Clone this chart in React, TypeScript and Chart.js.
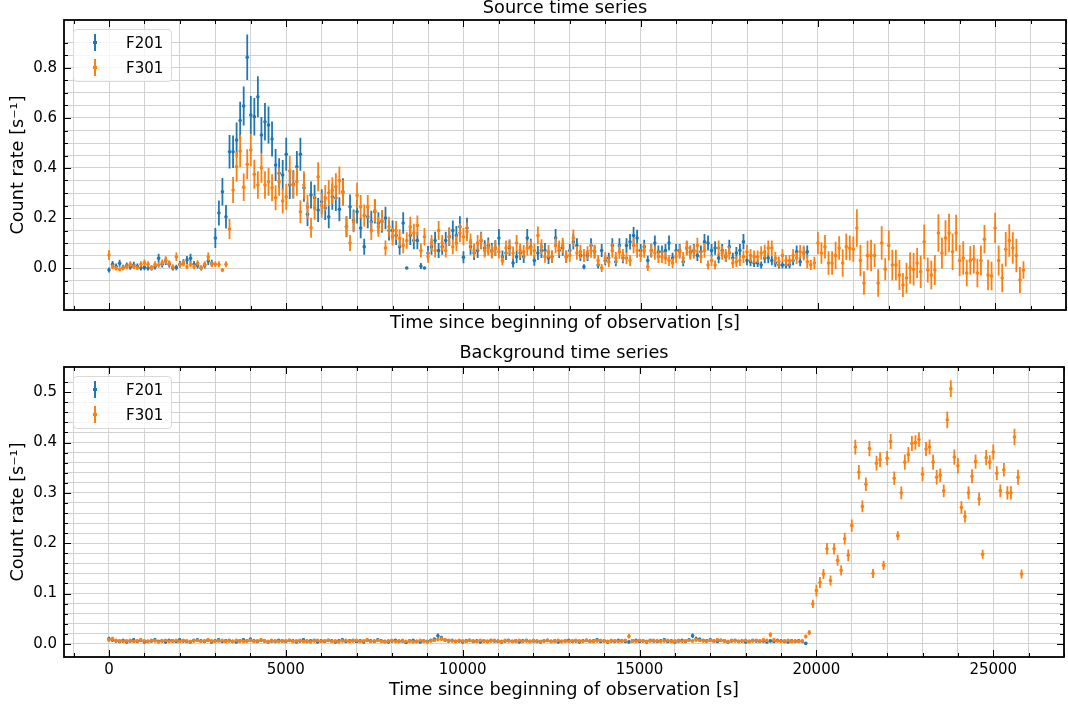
import React, { useEffect, useRef } from "react";
import { Chart, registerables } from "chart.js";

Chart.register(...registerables);

const FONT = '"DejaVu Sans", "Liberation Sans", sans-serif';
Chart.defaults.font.family = FONT;
Chart.defaults.color = "#000";

// ---------------- data (time bins of 100 s starting at 0 s) ----------------
const BIN_SECONDS = 100;
const SERIES_NAMES = ["F201", "F301"];
const COLORS = ["#1f77b4", "#ff7f0e"];
const PANEL_TITLES = ["Source time series", "Background time series"];
const X_LABEL = "Time since beginning of observation [s]";
const Y_LABEL = "Count rate [s\u207B\u00B9]";

// Source, F201: 0 .. 19700 s
const srcF201 = [
  -0.008, 0.015, 0.006, 0.019, 0.002, 0.01, 0.004, 0.012, 0.006, 0.0,
  0.002, 0.0, 0.0, 0.006, 0.039, 0.015, 0.028, 0.015, 0.0, 0.002,
  0.015, 0.021, 0.032, 0.039, 0.015, 0.01, 0.0, 0.01, 0.028, 0.019,
  0.12, 0.22, 0.305, 0.205, 0.465, 0.465, 0.512, 0.59, 0.648, 0.843,
  0.612, 0.605, 0.685, 0.532, 0.585, 0.572, 0.516, 0.412, 0.379, 0.372,
  0.455, 0.332, 0.335, 0.405, 0.455, 0.321, 0.215, 0.292, 0.281, 0.232,
  0.265, 0.24,
  0.205, 0.285, 0.28, 0.235, 0.305, 0.165, 0.245, 0.19, 0.225, 0.16,
  0.085, 0.205, 0.185, 0.225, 0.18, 0.185, 0.2, 0.15, 0.15, 0.13,
  0.085, 0.18, 0.0, 0.13, 0.11, 0.11, 0.008, 0.0, 0.06, 0.085,
  0.11, 0.07, 0.085, 0.11, 0.125, 0.15, 0.13, 0.165, 0.043, 0.16,
  0.085, 0.06, 0.07, 0.11, 0.08, 0.09, 0.07, 0.08, 0.12, 0.045,
  0.06, 0.08, 0.02, 0.045, 0.06, 0.045, 0.12, 0.085, 0.03, 0.06,
  0.07, 0.07, 0.04, 0.045, 0.12, 0.07, 0.08, 0.045,
  0.07, 0.105, 0.09, 0.05, 0.005, 0.05, 0.09, 0.065, 0.012, 0.07,
  0.03, 0.04, 0.09, 0.025, 0.09, 0.04, 0.09, 0.105, 0.13, 0.12,
  0.07, 0.085, 0.03, 0.07, 0.1, 0.065, 0.065, 0.07, 0.1, 0.04,
  0.07, 0.07, 0.025, 0.08, 0.065, 0.07, 0.05, 0.065, 0.105, 0.1,
  0.07, 0.08, 0.04, 0.07, 0.045, 0.085, 0.04, 0.06, 0.07, 0.105,
  0.03, 0.025, 0.02, 0.02, 0.012, 0.04, 0.04, 0.03, 0.02, 0.012,
  0.012, 0.012, 0.012, 0.03, 0.065, 0.025, 0.06, 0.065,
];
const srcF201Err = [
  0.01, 0.013, 0.012, 0.014, 0.011, 0.012, 0.011, 0.013, 0.012, 0.01,
  0.011, 0.01, 0.01, 0.012, 0.018, 0.013, 0.016, 0.013, 0.01, 0.011,
  0.013, 0.014, 0.016, 0.018, 0.013, 0.012, 0.01, 0.012, 0.016, 0.014,
  0.04, 0.05, 0.055, 0.047, 0.067, 0.065, 0.07, 0.075, 0.078, 0.091,
  0.076, 0.075, 0.082, 0.072, 0.075, 0.074, 0.07, 0.064, 0.06, 0.06,
  0.066, 0.056, 0.056, 0.063, 0.066, 0.056, 0.047, 0.054, 0.052, 0.048,
  0.05, 0.048,
  0.046, 0.052, 0.052, 0.048, 0.054, 0.042, 0.049, 0.044, 0.047, 0.041,
  0.032, 0.046, 0.044, 0.047, 0.043, 0.044, 0.045, 0.04, 0.04, 0.038,
  0.032, 0.043, 0, 0.038, 0.035, 0.035, 0.012, 0, 0.028, 0.032,
  0.035, 0.03, 0.032, 0.035, 0.037, 0.04, 0.038, 0.042, 0.024, 0.041,
  0.032, 0.028, 0.03, 0.035, 0.031, 0.032, 0.03, 0.031, 0.036, 0.025,
  0.028, 0.031, 0.018, 0.025, 0.028, 0.025, 0.036, 0.032, 0.021, 0.028,
  0.03, 0.03, 0.024, 0.025, 0.036, 0.03, 0.031, 0.025,
  0.026, 0.031, 0.029, 0.022, 0.01, 0.022, 0.029, 0.025, 0.014, 0.026,
  0.019, 0.021, 0.029, 0.018, 0.029, 0.021, 0.029, 0.031, 0.034, 0.033,
  0.026, 0.028, 0.019, 0.026, 0.03, 0.025, 0.025, 0.026, 0.03, 0.021,
  0.026, 0.026, 0.018, 0.027, 0.025, 0.026, 0.022, 0.025, 0.031, 0.03,
  0.026, 0.027, 0.021, 0.026, 0.021, 0.028, 0.021, 0.024, 0.026, 0.031,
  0.019, 0.018, 0.016, 0.016, 0.014, 0.021, 0.021, 0.019, 0.016, 0.014,
  0.014, 0.014, 0.014, 0.019, 0.025, 0.018, 0.024, 0.025,
];

// Source, F301: 0 .. 25800 s
const srcF301 = [
  0.052, 0.005, -0.001, -0.005, 0.001, 0.005, 0.015, 0.005, 0.001, 0.015,
  0.021, 0.015, 0.001, 0.015, 0.012, 0.021, 0.032, 0.019, 0.005, 0.045,
  0.012, 0.019, 0.005, 0.015, 0.005, 0.019, 0.001, 0.015, 0.045, 0.015,
  0.015, 0.015, -0.008, 0.015,
  0.156, 0.312, 0.405, 0.468, 0.323, 0.415, 0.472, 0.375, 0.332, 0.401,
  0.332, 0.345, 0.321, 0.281, 0.345, 0.268, 0.285, 0.388, 0.332, 0.345,
  0.225, 0.332, 0.245, 0.161, 0.241, 0.365, 0.25, 0.28,
  0.3, 0.31, 0.325, 0.35, 0.3, 0.165, 0.1, 0.185, 0.29, 0.245,
  0.21, 0.245, 0.15, 0.23, 0.165, 0.19, 0.08, 0.165, 0.125, 0.15,
  0.12, 0.09, 0.11, 0.165, 0.14, 0.17, 0.07, 0.125, 0.045, 0.1,
  0.07, 0.15, 0.1, 0.07, 0.125, 0.085, 0.1, 0.14, 0.125, 0.145,
  0.105, 0.07, 0.1, 0.11, 0.07, 0.08, 0.065, 0.08, 0.065, 0.03,
  0.08, 0.085, 0.06, 0.1, 0.07, 0.065, 0.08, 0.08, 0.07, 0.13,
  0.085, 0.045, 0.065, 0.045, 0.09, 0.08, 0.09, 0.045,
  0.05, 0.12, 0.06, 0.065, 0.05, 0.06, 0.07, 0.065, 0.03, 0.0,
  0.04, 0.025, 0.07, 0.04, 0.065, 0.05, 0.04, 0.03, 0.09, 0.07,
  0.05, 0.07, 0.005, 0.07, 0.06, 0.045, 0.045, 0.04, 0.03, 0.02,
  0.045, 0.065, 0.04, 0.08, 0.06, 0.065, 0.09, 0.045, 0.07, 0.012,
  0.03, 0.012, 0.08, 0.06, 0.05, 0.06, 0.02, 0.025, 0.03, 0.045,
  0.065, 0.05, 0.045, 0.045, 0.06, 0.065, 0.08, 0.08, 0.04, 0.025,
  0.05, 0.03, 0.03, 0.05, 0.04,
  0.065, 0.06, 0.025, 0.012, 0.02, 0.1, 0.06, 0.085, 0.02, 0.02,
  0.05, 0.08, 0.02, 0.085, 0.08, 0.075, 0.16, 0.03, -0.06, 0.05,
  0.05, 0.05, -0.06, 0.1, -0.005, 0.09, 0.012, 0.012, -0.028, -0.068,
  -0.04, 0.0, -0.005, 0.02, -0.015, 0.105, -0.008, -0.028, -0.008, 0.14,
  0.06, 0.12, 0.14, 0.065, 0.14, 0.03, 0.04, -0.02, 0.03, 0.035,
  -0.02, 0.03, 0.115, -0.028, -0.032, 0.16, 0.03, -0.04, 0.075, 0.11,
  0.08, 0.05, -0.048, -0.008,
];
const srcF301Err = [
  0.02, 0.01, 0.009, 0.008, 0.009, 0.01, 0.012, 0.01, 0.009, 0.012,
  0.013, 0.012, 0.009, 0.012, 0.011, 0.013, 0.015, 0.012, 0.01, 0.017,
  0.011, 0.012, 0.01, 0.012, 0.01, 0.012, 0.009, 0.012, 0.017, 0.012,
  0.012, 0.012, 0.008, 0.012,
  0.04, 0.052, 0.06, 0.065, 0.055, 0.06, 0.065, 0.058, 0.055, 0.06,
  0.055, 0.056, 0.054, 0.05, 0.056, 0.05, 0.052, 0.06, 0.055, 0.056,
  0.046, 0.055, 0.048, 0.04, 0.048, 0.058, 0.049, 0.052,
  0.052, 0.053, 0.054, 0.056, 0.052, 0.04, 0.032, 0.042, 0.051, 0.047,
  0.044, 0.047, 0.038, 0.046, 0.04, 0.042, 0.03, 0.04, 0.035, 0.038,
  0.035, 0.031, 0.033, 0.04, 0.037, 0.04, 0.028, 0.035, 0.024, 0.032,
  0.028, 0.038, 0.032, 0.028, 0.035, 0.03, 0.032, 0.037, 0.035, 0.037,
  0.033, 0.028, 0.032, 0.033, 0.028, 0.03, 0.027, 0.03, 0.027, 0.02,
  0.03, 0.03, 0.026, 0.032, 0.028, 0.027, 0.03, 0.03, 0.028, 0.036,
  0.03, 0.024, 0.027, 0.024, 0.031, 0.03, 0.031, 0.024,
  0.026, 0.034, 0.027, 0.028, 0.026, 0.027, 0.029, 0.028, 0.022, 0.016,
  0.024, 0.021, 0.029, 0.024, 0.028, 0.026, 0.024, 0.022, 0.031, 0.029,
  0.026, 0.029, 0.017, 0.029, 0.027, 0.025, 0.025, 0.024, 0.022, 0.02,
  0.025, 0.028, 0.024, 0.03, 0.027, 0.028, 0.031, 0.025, 0.029, 0.018,
  0.022, 0.018, 0.03, 0.027, 0.026, 0.027, 0.02, 0.021, 0.022, 0.025,
  0.028, 0.026, 0.025, 0.025, 0.027, 0.028, 0.03, 0.03, 0.024, 0.021,
  0.026, 0.022, 0.022, 0.026, 0.024,
  0.027, 0.03, 0.027, 0.02, 0.025, 0.045, 0.043, 0.047, 0.047, 0.047,
  0.055, 0.047, 0.055, 0.053, 0.05, 0.051, 0.075, 0.063, 0.047, 0.059,
  0.063, 0.046, 0.055, 0.067, 0.044, 0.06, 0.061, 0.061, 0.06, 0.048,
  0.061, 0.063, 0.065, 0.06, 0.065, 0.069, 0.05, 0.057, 0.06, 0.075,
  0.062, 0.071, 0.077, 0.073, 0.073, 0.062, 0.067, 0.053, 0.057, 0.057,
  0.057, 0.06, 0.057, 0.061, 0.057, 0.061, 0.06, 0.057, 0.069, 0.065,
  0.063, 0.067, 0.052, 0.035,
];

// Background, F201: 0 .. 19700 s
const bkgF201 = [
  0.010, 0.008, 0.006, 0.005, 0.007, 0.004, 0.006, 0.008, 0.005, 0.007,
  0.004, 0.005, 0.006, 0.008, 0.005, 0.006, 0.004, 0.007, 0.006, 0.005,
  0.008, 0.006, 0.005, 0.004, 0.007, 0.008, 0.006, 0.005, 0.007, 0.004,
  0.006, 0.008, 0.005, 0.006, 0.007, 0.005, 0.004, 0.006, 0.008, 0.006,
  0.009, 0.006, 0.005, 0.007, 0.006, 0.004, 0.006, 0.005, 0.007, 0.006,
  0.005, 0.007, 0.006, 0.004, 0.006, 0.008, 0.005, 0.006, 0.007, 0.004,
  0.006, 0.005, 0.007, 0.006, 0.004, 0.006, 0.008, 0.005, 0.006, 0.007,
  0.005, 0.006, 0.004, 0.007, 0.006, 0.005, 0.008, 0.006, 0.005, 0.004,
  0.006, 0.007, 0.005, 0.006, 0.003, 0.006, 0.007, 0.005, 0.004, 0.006,
  0.005, 0.007, 0.009, 0.016, 0.012, 0.008, 0.006, 0.007, 0.005, 0.006,
  0.004, 0.006, 0.007, 0.005, 0.006, 0.004, 0.006, 0.005, 0.007, 0.006,
  0.005, 0.004, 0.006, 0.007, 0.005, 0.006, 0.004, 0.006, 0.007, 0.005,
  0.006, 0.005, 0.004, 0.006, 0.007, 0.005, 0.006, 0.004, 0.005, 0.006,
  0.007, 0.005, 0.006, 0.004, 0.006, 0.007, 0.005, 0.006, 0.008, 0.005,
  0.006, 0.004, 0.006, 0.005, 0.007, 0.006, 0.005, 0.004, 0.006, 0.007,
  0.005, 0.006, 0.004, 0.007, 0.006, 0.005, 0.006, 0.008, 0.005, 0.006,
  0.004, 0.006, 0.007, 0.005, 0.008, 0.016, 0.010, 0.009, 0.007, 0.006,
  0.008, 0.006, 0.005, 0.007, 0.006, 0.004, 0.006, 0.007, 0.005, 0.006,
  0.004, 0.005, 0.007, 0.006, 0.005, 0.006, 0.004, 0.006, 0.005, 0.007,
  0.006, 0.005, 0.004, 0.006, 0.005, 0.006, 0.005, 0.001,
];
const bkgF201Err = [
  0.004, 0.0035, 0.003, 0.003, 0.003, 0.0025, 0.003, 0.0035, 0.003, 0.003,
  0.0025, 0.003, 0.003, 0.0035, 0.003, 0.003, 0.0025, 0.003, 0.003, 0.003,
  0.0035, 0.003, 0.003, 0.0025, 0.003, 0.0035, 0.003, 0.003, 0.003, 0.0025,
  0.003, 0.0035, 0.003, 0.003, 0.003, 0.003, 0.0025, 0.003, 0.0035, 0.003,
  0.0035, 0.003, 0.003, 0.003, 0.003, 0.0025, 0.003, 0.003, 0.003, 0.003,
  0.003, 0.003, 0.003, 0.0025, 0.003, 0.0035, 0.003, 0.003, 0.003, 0.0025,
  0.003, 0.003, 0.003, 0.003, 0.0025, 0.003, 0.0035, 0.003, 0.003, 0.003,
  0.003, 0.003, 0.0025, 0.003, 0.003, 0.003, 0.0035, 0.003, 0.003, 0.0025,
  0.003, 0.003, 0.003, 0.003, 0.0025, 0.003, 0.003, 0.003, 0.0025, 0.003,
  0.003, 0.003, 0.0035, 0.0045, 0.004, 0.0035, 0.003, 0.003, 0.003, 0.003,
  0.0025, 0.003, 0.003, 0.003, 0.003, 0.0025, 0.003, 0.003, 0.003, 0.003,
  0.003, 0.0025, 0.003, 0.003, 0.003, 0.003, 0.0025, 0.003, 0.003, 0.003,
  0.003, 0.003, 0.0025, 0.003, 0.003, 0.003, 0.003, 0.0025, 0.003, 0.003,
  0.003, 0.003, 0.003, 0.0025, 0.003, 0.003, 0.003, 0.003, 0.0035, 0.003,
  0.003, 0.0025, 0.003, 0.003, 0.003, 0.003, 0.003, 0.0025, 0.003, 0.003,
  0.003, 0.003, 0.0025, 0.003, 0.003, 0.003, 0.003, 0.0035, 0.003, 0.003,
  0.0025, 0.003, 0.003, 0.003, 0.0035, 0.0045, 0.004, 0.0035, 0.003, 0.003,
  0.0035, 0.003, 0.003, 0.003, 0.003, 0.0025, 0.003, 0.003, 0.003, 0.003,
  0.0025, 0.003, 0.003, 0.003, 0.003, 0.003, 0.0025, 0.003, 0.003, 0.003,
  0.003, 0.003, 0.0025, 0.003, 0.003, 0.003, 0.003, 0.0015,
];

// Background, F301: 0 .. 25800 s
const bkgF301 = [
  0.008, 0.010, 0.007, 0.006, 0.005, 0.006, 0.007, 0.005, 0.006, 0.008,
  0.006, 0.005, 0.007, 0.006, 0.004, 0.006, 0.007, 0.005, 0.006, 0.007,
  0.005, 0.007, 0.006, 0.005, 0.006, 0.007, 0.005, 0.006, 0.008, 0.006,
  0.005, 0.006, 0.007, 0.005, 0.006, 0.005, 0.007, 0.006, 0.005, 0.006,
  0.007, 0.005, 0.006, 0.008, 0.006, 0.005, 0.007, 0.006, 0.005, 0.006,
  0.006, 0.007, 0.005, 0.006, 0.007, 0.005, 0.006, 0.004, 0.006, 0.007,
  0.005, 0.006, 0.007, 0.005, 0.006, 0.004, 0.006, 0.007, 0.005, 0.006,
  0.007, 0.005, 0.006, 0.008, 0.005, 0.006, 0.007, 0.005, 0.004, 0.006,
  0.007, 0.005, 0.006, 0.007, 0.005, 0.006, 0.004, 0.005, 0.007, 0.006,
  0.004, 0.006, 0.007, 0.009, 0.010, 0.008, 0.007, 0.006, 0.005, 0.007,
  0.006, 0.005, 0.007, 0.006, 0.005, 0.007, 0.006, 0.005, 0.006, 0.007,
  0.006, 0.005, 0.007, 0.006, 0.005, 0.006, 0.007, 0.005, 0.006, 0.005,
  0.007, 0.006, 0.005, 0.006, 0.007, 0.005, 0.006, 0.007, 0.005, 0.006,
  0.005, 0.006, 0.007, 0.006, 0.005, 0.007, 0.006, 0.005, 0.006, 0.007,
  0.006, 0.005, 0.007, 0.006, 0.005, 0.006, 0.007, 0.015, 0.006, 0.005,
  0.007, 0.006, 0.005, 0.006, 0.007, 0.006, 0.005, 0.006, 0.007, 0.005,
  0.006, 0.007, 0.005, 0.006, 0.007, 0.006, 0.008, 0.007, 0.006, 0.005,
  0.007, 0.006, 0.008, 0.007, 0.006, 0.005, 0.007, 0.006, 0.005, 0.006,
  0.007, 0.005, 0.006, 0.007, 0.006, 0.008, 0.007, 0.018, 0.008, 0.006,
  0.005, 0.006, 0.007, 0.005, 0.006, 0.005, 0.006, 0.0146, 0.0225, 0.0795,
  0.106, 0.122, 0.139, 0.189, 0.126, 0.189, 0.166, 0.146, 0.209, 0.176,
  0.235, 0.391, 0.341, 0.273, 0.317, 0.388, 0.140, 0.359, 0.366, 0.156,
  0.369, 0.402, 0.329, 0.215, 0.300, 0.361, 0.376, 0.398, 0.400, 0.406,
  0.337, 0.387, 0.391, 0.361, 0.331, 0.335, 0.304, 0.445, 0.507, 0.371,
  0.354, 0.271, 0.253, 0.300, 0.333, 0.362, 0.288, 0.178, 0.370, 0.361,
  0.381, 0.339, 0.304, 0.346, 0.300, 0.300, 0.411, 0.331, 0.139,
];
const bkgF301Err = [
  0.0035, 0.004, 0.003, 0.003, 0.003, 0.003, 0.003, 0.003, 0.003, 0.0035,
  0.003, 0.003, 0.003, 0.003, 0.0025, 0.003, 0.003, 0.003, 0.003, 0.003,
  0.003, 0.003, 0.003, 0.003, 0.003, 0.003, 0.003, 0.003, 0.0035, 0.003,
  0.003, 0.003, 0.003, 0.003, 0.003, 0.003, 0.003, 0.003, 0.003, 0.003,
  0.003, 0.003, 0.003, 0.0035, 0.003, 0.003, 0.003, 0.003, 0.003, 0.003,
  0.003, 0.003, 0.003, 0.003, 0.003, 0.003, 0.003, 0.0025, 0.003, 0.003,
  0.003, 0.003, 0.003, 0.003, 0.003, 0.0025, 0.003, 0.003, 0.003, 0.003,
  0.003, 0.003, 0.003, 0.0035, 0.003, 0.003, 0.003, 0.003, 0.0025, 0.003,
  0.003, 0.003, 0.003, 0.003, 0.003, 0.003, 0.0025, 0.003, 0.003, 0.003,
  0.0025, 0.003, 0.003, 0.0035, 0.004, 0.0035, 0.003, 0.003, 0.003, 0.003,
  0.003, 0.003, 0.003, 0.003, 0.003, 0.003, 0.003, 0.003, 0.003, 0.003,
  0.003, 0.003, 0.003, 0.003, 0.003, 0.003, 0.003, 0.003, 0.003, 0.003,
  0.003, 0.003, 0.003, 0.003, 0.003, 0.003, 0.003, 0.003, 0.003, 0.003,
  0.003, 0.003, 0.003, 0.003, 0.003, 0.003, 0.003, 0.003, 0.003, 0.003,
  0.003, 0.003, 0.003, 0.003, 0.003, 0.003, 0.003, 0.0045, 0.003, 0.003,
  0.003, 0.003, 0.003, 0.003, 0.003, 0.003, 0.003, 0.003, 0.003, 0.003,
  0.003, 0.003, 0.003, 0.003, 0.003, 0.003, 0.0035, 0.003, 0.003, 0.003,
  0.003, 0.003, 0.0035, 0.003, 0.003, 0.003, 0.003, 0.003, 0.003, 0.003,
  0.003, 0.003, 0.003, 0.003, 0.003, 0.0035, 0.003, 0.005, 0.0035, 0.003,
  0.003, 0.003, 0.003, 0.003, 0.003, 0.003, 0.003, 0.004, 0.005, 0.008,
  0.0116, 0.011, 0.01, 0.0116, 0.01, 0.0116, 0.011, 0.01, 0.0116, 0.0116,
  0.0123, 0.0146, 0.0142, 0.0116, 0.0133, 0.0152, 0.009, 0.0146, 0.0146, 0.009,
  0.014, 0.015, 0.0133, 0.009, 0.0126, 0.015, 0.015, 0.015, 0.0146, 0.0142,
  0.0142, 0.0139, 0.015, 0.015, 0.0142, 0.0133, 0.0126, 0.0166, 0.0166, 0.015,
  0.0156, 0.0123, 0.0119, 0.0126, 0.0139, 0.0142, 0.0129, 0.009, 0.015, 0.0139,
  0.015, 0.0139, 0.0126, 0.0133, 0.0133, 0.0133, 0.0166, 0.015, 0.009,
];

// axis limits and tick steps
const X_MIN = -1270;
const X_MAX = 27000;
const X_MINOR = 1000;
const X_MAJOR = 5000;
const SRC_Y = { min: -0.168, max: 0.992, minor: 0.05, major: 0.2 };
const BKG_Y = { min: -0.026, max: 0.55, minor: 0.02, major: 0.1 };

// ---------------- helpers ----------------
const GRID_COLOR = "#d2d2d2";
const TICK_FONT = { family: FONT, size: 15, weight: "normal" as const };
const LABEL_FONT = { family: FONT, size: 17.7, weight: "normal" as const };
const TITLE_FONT = { family: FONT, size: 17.7, weight: "normal" as const, lineHeight: 1 };

function isMultiple(v: number, step: number) {
  const r = v / step;
  return Math.abs(r - Math.round(r)) < 1e-6;
}

function toPoints(vals: number[], errs: number[]) {
  return vals.map((y, i) => ({ x: i * BIN_SECONDS, y, e: errs[i] ?? 0 }));
}

const errorBarPlugin = {
  id: "errorBars",
  beforeDatasetDraw(chart: any, args: any) {
    const ds = chart.data.datasets[args.index];
    const xs = chart.scales.x;
    const ys = chart.scales.y;
    const ctx = chart.ctx;
    const a = chart.chartArea;
    ctx.save();
    ctx.beginPath();
    ctx.rect(a.left, a.top, a.right - a.left, a.bottom - a.top);
    ctx.clip();
    ctx.strokeStyle = ds.borderColor;
    ctx.lineWidth = 1.8;
    ctx.beginPath();
    for (const p of ds.data) {
      if (!p.e) continue;
      const px = xs.getPixelForValue(p.x);
      ctx.moveTo(px, ys.getPixelForValue(p.y - p.e));
      ctx.lineTo(px, ys.getPixelForValue(p.y + p.e));
    }
    ctx.stroke();
    ctx.restore();
  },
};

const frameTicksPlugin = {
  id: "frameTicks",
  afterDatasetsDraw(chart: any, _args: any, opts: any) {
    const { ctx, chartArea: a, scales } = chart;
    const xs = scales.x;
    const ys = scales.y;
    ctx.save();
    ctx.strokeStyle = "#000";
    ctx.lineWidth = 1;
    ctx.beginPath();
    for (const t of xs.ticks) {
      if (!isMultiple(t.value, opts.xMinor)) continue;
      const len = isMultiple(t.value, opts.xMajor) ? 7 : 4;
      const px = Math.round(xs.getPixelForValue(t.value)) + 0.5;
      ctx.moveTo(px, a.bottom);
      ctx.lineTo(px, a.bottom - len);
      ctx.moveTo(px, a.top);
      ctx.lineTo(px, a.top + len);
    }
    for (const t of ys.ticks) {
      if (!isMultiple(t.value, opts.yMinor)) continue;
      const len = isMultiple(t.value, opts.yMajor) ? 7 : 4;
      const py = Math.round(ys.getPixelForValue(t.value)) + 0.5;
      ctx.moveTo(a.left, py);
      ctx.lineTo(a.left + len, py);
      ctx.moveTo(a.right, py);
      ctx.lineTo(a.right - len, py);
    }
    ctx.stroke();
    ctx.lineWidth = 1.8;
    ctx.strokeRect(a.left, a.top, a.right - a.left, a.bottom - a.top);
    ctx.restore();
  },
};

type PanelSpec = {
  title: string;
  f201: number[];
  f201Err: number[];
  f301: number[];
  f301Err: number[];
  y: { min: number; max: number; minor: number; major: number };
  titleGap: number;
  xAxisHeight: number;
  showXLabels: boolean;
  xTitlePad: number;
};

function makeConfig(p: PanelSpec): any {
  return {
    type: "scatter",
    data: {
      datasets: [
        {
          label: SERIES_NAMES[0],
          data: toPoints(p.f201, p.f201Err),
          borderColor: COLORS[0],
          backgroundColor: COLORS[0],
          pointRadius: 1.8,
          pointHoverRadius: 1.8,
          pointBorderWidth: 0,
          borderWidth: 0,
          order: 1,
        },
        {
          label: SERIES_NAMES[1],
          data: toPoints(p.f301, p.f301Err),
          borderColor: COLORS[1],
          backgroundColor: COLORS[1],
          pointRadius: 1.8,
          pointHoverRadius: 1.8,
          pointBorderWidth: 0,
          borderWidth: 0,
          order: 0,
        },
      ],
    },
    options: {
      responsive: false,
      animation: false,
      events: [],
      layout: { padding: { left: 0, right: 2, top: 0, bottom: 0 } },
      plugins: {
        legend: { display: false },
        tooltip: { enabled: false },
        title: {
          display: true,
          text: p.title,
          fullSize: false,
          color: "#000",
          font: TITLE_FONT,
          padding: { top: 0, bottom: p.titleGap },
        },
        frameTicks: { xMinor: X_MINOR, xMajor: X_MAJOR, yMinor: p.y.minor, yMajor: p.y.major },
      },
      scales: {
        x: {
          type: "linear",
          min: X_MIN,
          max: X_MAX,
          afterBuildTicks: (s: any) => {
            const vals: { value: number }[] = [];
            for (let v = Math.ceil(s.min / X_MINOR) * X_MINOR; v <= s.max; v += X_MINOR) {
              vals.push({ value: v });
            }
            s.ticks = vals;
          },
          afterFit: (s: any) => {
            s.height = p.xAxisHeight;
          },
          ticks: {
            display: p.showXLabels,
            autoSkip: false,
            maxRotation: 0,
            minRotation: 0,
            padding: 4,
            color: "#000",
            font: TICK_FONT,
            callback: (v: number) => (isMultiple(v, X_MAJOR) ? String(Math.round(v)) : ""),
          },
          grid: {
            drawTicks: false,
            lineWidth: 1,
            color: (c: any) =>
              c.tick && isMultiple(c.tick.value, X_MINOR) ? GRID_COLOR : "rgba(0,0,0,0)",
          },
          border: { display: false },
          title: {
            display: true,
            text: X_LABEL,
            color: "#000",
            font: LABEL_FONT,
            padding: { top: 0, bottom: p.xTitlePad },
          },
        },
        y: {
          type: "linear",
          min: p.y.min,
          max: p.y.max,
          afterFit: (s: any) => {
            s.width = 64;
          },
          ticks: {
            stepSize: p.y.minor,
            autoSkip: false,
            padding: 7,
            color: "#000",
            font: TICK_FONT,
            callback: (v: number) =>
              isMultiple(v, p.y.major) ? (Math.abs(v) < 1e-9 ? "0.0" : v.toFixed(1)) : "",
          },
          grid: {
            drawTicks: false,
            lineWidth: 1,
            color: (c: any) =>
              c.tick && isMultiple(c.tick.value, p.y.minor) ? GRID_COLOR : "rgba(0,0,0,0)",
          },
          border: { display: false },
          title: {
            display: true,
            text: Y_LABEL,
            color: "#000",
            font: LABEL_FONT,
            padding: { top: 7.4, bottom: 0 },
          },
        },
      },
    },
    plugins: [errorBarPlugin, frameTicksPlugin],
  };
}

function Legend({ top }: { top: number }) {
  return (
    <div
      style={{
        position: "absolute",
        left: 73,
        top,
        width: 97,
        height: 51,
        border: "1px solid #d9d9d9",
        borderRadius: 4,
        background: "rgba(255,255,255,0.8)",
        fontFamily: FONT,
        fontSize: 15,
        color: "#000",
      }}
    >
      {SERIES_NAMES.map((name, i) => (
        <div
          key={name}
          style={{ position: "absolute", left: 0, top: 4 + i * 25, height: 18, width: "100%" }}
        >
          <span
            style={{
              position: "absolute",
              left: 20,
              top: 0,
              width: 2,
              height: 17,
              background: COLORS[i],
            }}
          />
          <span
            style={{
              position: "absolute",
              left: 19,
              top: 7,
              width: 4,
              height: 3,
              background: COLORS[i],
            }}
          />
          <span style={{ position: "absolute", left: 52, top: 0, lineHeight: "18px" }}>{name}</span>
        </div>
      ))}
    </div>
  );
}

export default function App() {
  const topRef = useRef<HTMLCanvasElement | null>(null);
  const botRef = useRef<HTMLCanvasElement | null>(null);

  useEffect(() => {
    const top = new Chart(
      topRef.current as HTMLCanvasElement,
      makeConfig({
        title: PANEL_TITLES[0],
        f201: srcF201,
        f201Err: srcF201Err,
        f301: srcF301,
        f301Err: srcF301Err,
        y: SRC_Y,
        titleGap: 2.3,
        xAxisHeight: 30,
        showXLabels: false,
        xTitlePad: 6.4,
      })
    );
    const bot = new Chart(
      botRef.current as HTMLCanvasElement,
      makeConfig({
        title: PANEL_TITLES[1],
        f201: bkgF201,
        f201Err: bkgF201Err,
        f301: bkgF301,
        f301Err: bkgF301Err,
        y: BKG_Y,
        titleGap: 4.3,
        xAxisHeight: 52,
        showXLabels: true,
        xTitlePad: 8.4,
      })
    );
    return () => {
      top.destroy();
      bot.destroy();
    };
  }, []);

  return (
    <div
      style={{
        position: "absolute",
        left: 0,
        top: 0,
        width: 1068,
        height: 709,
        background: "#fff",
        overflow: "hidden",
      }}
    >
      <canvas
        ref={topRef}
        width={1068}
        height={340}
        style={{ position: "absolute", left: 0, top: 0 }}
      />
      <canvas
        ref={botRef}
        width={1068}
        height={364}
        style={{ position: "absolute", left: 0, top: 345 }}
      />
      <Legend top={29} />
      <Legend top={376} />
    </div>
  );
}
